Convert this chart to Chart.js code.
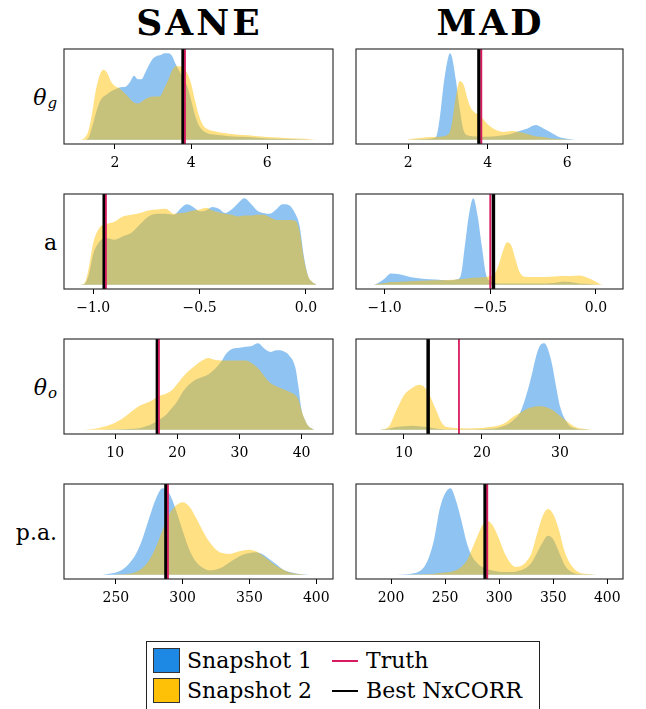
<!DOCTYPE html>
<html><head><meta charset="utf-8">
<script src="https://cdn.jsdelivr.net/npm/chart.js@4.4.0/dist/chart.umd.min.js"></script>
<style>
html,body{margin:0;padding:0;background:#fff;}
body{position:relative;width:646px;height:709px;overflow:hidden;font-family:'DejaVu Serif',serif;color:#000;}
canvas{position:absolute;}
.title{position:absolute;top:2px;width:300px;text-align:center;font-weight:bold;font-size:36px;line-height:40px;letter-spacing:3px;padding-left:3px;box-sizing:border-box;}
.rowlab{position:absolute;left:0;width:57px;height:40px;display:flex;align-items:center;justify-content:flex-end;font-size:22px;white-space:nowrap;}
.rowlab i{font-style:italic;}
.rowlab sub{font-size:15px;font-style:italic;position:relative;top:6px;vertical-align:baseline;line-height:0;margin-left:1px;}
#legend{position:absolute;left:146px;top:641px;width:394px;height:80px;border:1px solid #222;box-sizing:border-box;background:#fff;}
.patch{position:absolute;width:27px;height:25px;border:1px solid #333;box-sizing:border-box;}
.ltext{position:absolute;font-size:22px;line-height:30px;white-space:nowrap;}
.lline{position:absolute;width:26px;height:2px;}
</style>
</head><body>
<div class="title" style="left:48px;">SANE</div>
<div class="title" style="left:339px;">MAD</div>
<div class="rowlab" style="top:77px;"><i>θ</i><sub>g</sub></div>
<div class="rowlab" style="top:222px;">a</div>
<div class="rowlab" style="top:367px;"><i>θ</i><sub>o</sub></div>
<div class="rowlab" style="top:512px;">p.a.</div>
<div id="legend">
  <div class="patch" style="left:6px;top:6px;background:#1E88E5;"></div>
  <div class="patch" style="left:6px;top:36px;background:#FFC107;"></div>
  <div class="ltext" style="left:40px;top:4px;">Snapshot 1</div>
  <div class="ltext" style="left:40px;top:34px;">Snapshot 2</div>
  <div class="lline" style="left:185px;top:18px;background:#D81B60;"></div>
  <div class="lline" style="left:185px;top:48px;background:#000;"></div>
  <div class="ltext" style="left:219px;top:4px;">Truth</div>
  <div class="ltext" style="left:219px;top:34px;">Best NxCORR</div>
</div>
<script>
// ---------------- data ----------------
// theta_g, SANE
const thetaG_SANE_x = [1.1,1.2,1.3,1.4,1.5,1.6,1.7,1.8,1.9,2.0,2.1,2.2,2.3,2.4,2.5,2.6,2.7,2.8,2.9,3.0,3.1,3.2,3.3,3.4,3.5,3.6,3.7,3.8,3.9,4.0,4.1,4.2,4.3,4.4,4.6,4.8,5.0,5.5,6.0,6.5,7.0,7.3];
const thetaG_SANE_snap1 = [0,0,2,15,31,44,50,53,56,58,60,61,62,67,74,70,70,78,87,94,97,98,100,100,97,87,79,69,62,46,29,17,11,8,6,5,4,3,1.5,0.8,0.3,0];
const thetaG_SANE_snap2 = [0,2,10,31,58,75,81,77,67,62,60,56,52,47,43,42,44,47,49,50,50,51,60,69,80,85,85,83,77,65,46,29,18,13,10,8,7,5,3,2,1,0];
// theta_g, MAD
const thetaG_MAD_x = [2.0,2.3,2.6,2.7,2.8,2.9,3.0,3.05,3.1,3.2,3.3,3.4,3.5,3.6,3.8,4.0,4.2,4.4,4.6,4.8,5.0,5.2,5.4,5.6,5.8,6.0,6.2];
const thetaG_MAD_snap1 = [0,0.5,1.5,3,27,67,94,100,96,69,35,10,5,4,3.5,3.5,4,5,7,10,13,17,13,8,3,1,0];
const thetaG_MAD_snap2 = [0.5,2,3,3,3.5,4,6,9,19,50,68,63,46,35,28,18,11.5,9,10,9,6.5,4,3,1.5,0.8,0.3,0];
// spin a, SANE
const spin_SANE_x = [-1.06,-1.04,-1.02,-1.0,-0.97,-0.94,-0.9,-0.86,-0.82,-0.78,-0.74,-0.7,-0.66,-0.62,-0.59,-0.56,-0.53,-0.5,-0.47,-0.44,-0.41,-0.38,-0.35,-0.32,-0.29,-0.26,-0.23,-0.2,-0.17,-0.14,-0.11,-0.08,-0.05,-0.03,-0.01,0.01,0.03,0.05];
const spin_SANE_snap1 = [0,1,12,35,50,54,52,56,60,70,79,82,82,81,88,93,90,85,86,90,88,83,87,94,100,94,86,83,82,87,93,92,82,68,33,10,3,0];
const spin_SANE_snap2 = [0,2,20,48,66,70,73,79,81,83,86,87,88,82,83,84,86,87,89,86,84,82,81,79,80,80,81,81,78,75,75,75,74,62,30,10,3,0];
// spin a, MAD
const spin_MAD_x = [-1.05,-1.03,-1.0,-0.97,-0.93,-0.88,-0.82,-0.76,-0.70,-0.66,-0.64,-0.62,-0.60,-0.58,-0.56,-0.54,-0.52,-0.50,-0.48,-0.46,-0.44,-0.42,-0.40,-0.38,-0.36,-0.33,-0.29,-0.24,-0.20,-0.16,-0.12,-0.08,-0.05,-0.02,0.01,0.03];
const spin_MAD_snap1 = [0,2,7,13,12,9,7,6,5,6,10,45,82,100,80,45,12,4,2,1.5,1.5,1.5,1.5,1.5,1.5,1.5,1.5,1.5,2,3.5,3,1.5,1,0.5,0,0];
const spin_MAD_snap2 = [0,1,2,3,3.5,4,4.5,5,5.5,6,6.5,7,7.5,8,8,8.5,9,10,12,23,39,49,45,29,14,9,9,9,9.5,10,10,10.5,9,6,2,0];
// theta_o, SANE
const thetaO_SANE_x = [5,7,9,11,13,14,15,16,17,18,19,20,21,22,23,24,25,26,27,28,29,30,31,32,33,34,35,36,37,38,39,39.5,40,40.5,41,42];
const thetaO_SANE_snap1 = [0,0,0.3,0.6,1,2,4,7,11,16,24,33,45,53,58,61,64,70,78,89,94,95,96,97,100,94,90,92,91,86,72,50,23,12,5,0];
const thetaO_SANE_snap2 = [0,1.5,5,12,23,28,31,34,39,41,45,53,62,69,75,80,83,81,80,80,80,80,80,77,71,62,54,50,47,44,40,35,22,12,5,0];
// theta_o, MAD
const thetaO_MAD_x = [7,8,9,10,11,12,13,14,15,16,18,20,21,22,23,24,25,26,26.5,27,27.5,28,28.5,29,29.5,30,31,32,33,34];
const thetaO_MAD_snap1 = [0,1,3,4,4.5,4,3,1.5,0.5,0.3,0.3,0.5,1,2,5,11,22,50,68,87,98,100,92,75,50,27,7,1.5,0.5,0];
const thetaO_MAD_snap2 = [0,3,22,40,48,52,45,25,6,2.5,1.5,2,3,4.5,8,15,20,25,26,27,27,26.5,25,23,20,16,9,3,1,0];
// position angle, SANE
const pa_SANE_x = [240,245,250,255,260,265,270,275,280,285,290,295,300,305,310,315,320,325,330,335,340,345,350,355,360,365,370,375,380,385,390,395];
const pa_SANE_snap1 = [0,1,2.5,6,13,24,42,66,88,100,94,75,51,29,15,8,5,6,9,14,19,23,25,26,23.5,18,12,6,3,1.5,0.5,0];
const pa_SANE_snap2 = [0,0,0.3,0.5,1,3,8,17,32,52,70,80,84,79,66,51,38,29,25,24,26,28,29,27,22,16,10,6,2.5,1,0.3,0];
// position angle, MAD
const pa_MAD_x = [205,215,225,230,235,240,245,250,255,260,265,270,275,280,285,290,295,300,305,310,315,320,325,330,335,340,345,350,355,360,365,370,375,380,390];
const pa_MAD_snap1 = [0,0.5,3,8,20,42,76,94,100,86,63,37,21,13,8.5,6,4.5,3.5,3,3,3.5,5,8,14,25.5,37,45,41,27,12.5,4.7,1.5,0.5,0.2,0];
const pa_MAD_snap2 = [0,0,0.2,0.4,0.8,1.2,2,2.5,3,5,9,16,30,45,58,62,55,41,25,14,9,10,15,25,47,67,76,70,53,29,14,6,2,1,0];

// vertical markers, panel order: thetaG SANE, thetaG MAD, a SANE, a MAD, thetaO SANE, thetaO MAD, pa SANE, pa MAD
const truthValues = [3.84, 3.84, -0.94, -0.50, 17.05, 17.05, 289, 289];
const bestNxcorrValues = [3.79, 3.78, -0.948, -0.485, 16.8, 13.1, 287.5, 287];
// axis ranges and tick values
const xMinValues = [0.66, 0.69, -1.137, -1.135, 1.77, 3.85, 211.2, 167.6];
const xMaxValues = [7.73, 7.40, 0.127, 0.128, 45.06, 38.08, 412.5, 414.5];
const thetaG_ticks = [2, 4, 6];
const spin_ticks = [-1.0, -0.5, 0.0];
const thetaO_SANE_ticks = [10, 20, 30, 40];
const thetaO_MAD_ticks = [10, 20, 30];
const pa_SANE_ticks = [250, 300, 350, 400];
const pa_MAD_ticks = [200, 250, 300, 350, 400];
const panelTicks = [thetaG_ticks, thetaG_ticks, spin_ticks, spin_ticks, thetaO_SANE_ticks, thetaO_MAD_ticks, pa_SANE_ticks, pa_MAD_ticks];
const xTickDecimals = [0, 0, 1, 1, 0, 0, 0, 0];

const panelX = [thetaG_SANE_x, thetaG_MAD_x, spin_SANE_x, spin_MAD_x, thetaO_SANE_x, thetaO_MAD_x, pa_SANE_x, pa_MAD_x];
const panelSnap1 = [thetaG_SANE_snap1, thetaG_MAD_snap1, spin_SANE_snap1, spin_MAD_snap1, thetaO_SANE_snap1, thetaO_MAD_snap1, pa_SANE_snap1, pa_MAD_snap1];
const panelSnap2 = [thetaG_SANE_snap2, thetaG_MAD_snap2, spin_SANE_snap2, spin_MAD_snap2, thetaO_SANE_snap2, thetaO_MAD_snap2, pa_SANE_snap2, pa_MAD_snap2];

// ---------------- layout ----------------
const colLeft = [64, 356];
const colWidth = [269, 267];
const rowTop = [49, 194, 339, 484];
const panelHeight = 95;
const PAD = 30, PADTOP = 5, AXISH = 30;

Chart.defaults.font.family = "'DejaVu Serif', serif";
Chart.defaults.color = '#000';

const framePlugin = {
  id: 'frame',
  afterDraw(chart) {
    const a = chart.chartArea, ctx = chart.ctx;
    ctx.save();
    ctx.strokeStyle = '#222';
    ctx.lineWidth = 1.1;
    ctx.strokeRect(a.left, a.top, a.right - a.left, a.bottom - a.top);
    ctx.restore();
  }
};

function toPts(xs, ys) { return xs.map((x, i) => ({x: x, y: ys[i]})); }

for (let p = 0; p < 8; p++) {
  const col = p % 2, row = Math.floor(p / 2);
  const cv = document.createElement('canvas');
  const w = colWidth[col] + 2 * PAD, h = panelHeight + PADTOP + AXISH;
  cv.width = w; cv.height = h;
  cv.style.left = (colLeft[col] - PAD) + 'px';
  cv.style.top = (rowTop[row] - PADTOP) + 'px';
  cv.style.width = w + 'px'; cv.style.height = h + 'px';
  document.body.appendChild(cv);
  const dec = xTickDecimals[p];
  const tickVals = panelTicks[p];
  new Chart(cv.getContext('2d'), {
    type: 'line',
    data: {
      datasets: [
        {label: 'Truth', data: [{x: truthValues[p], y: -5}, {x: truthValues[p], y: 105}],
         borderColor: '#D81B60', borderWidth: 1.8, pointRadius: 0, fill: false, order: 0},
        {label: 'Best NxCORR', data: [{x: bestNxcorrValues[p], y: -5}, {x: bestNxcorrValues[p], y: 105}],
         borderColor: '#000', borderWidth: 3.5, pointRadius: 0, fill: false, order: 1},
        {label: 'Snapshot 2', data: toPts(panelX[p], panelSnap2[p]),
         backgroundColor: 'rgba(255,193,7,0.5)', borderColor: 'rgba(255,193,7,0)', borderWidth: 0,
         pointRadius: 0, fill: 'origin', cubicInterpolationMode: 'monotone', order: 2},
        {label: 'Snapshot 1', data: toPts(panelX[p], panelSnap1[p]),
         backgroundColor: 'rgba(30,136,229,0.5)', borderColor: 'rgba(30,136,229,0)', borderWidth: 0,
         pointRadius: 0, fill: 'origin', cubicInterpolationMode: 'monotone', order: 3}
      ]
    },
    options: {
      responsive: false, animation: false, events: [],
      layout: {padding: {left: PAD, right: PAD, top: PADTOP, bottom: 0}},
      plugins: {legend: {display: false}, tooltip: {enabled: false}},
      scales: {
        x: {
          type: 'linear', min: xMinValues[p], max: xMaxValues[p],
          afterBuildTicks: (s) => { s.ticks = tickVals.map(v => ({value: v})); },
          afterFit: (s) => { s.height = AXISH; },
          border: {display: false},
          grid: {drawOnChartArea: false, drawTicks: true, tickLength: 5, color: '#000', tickColor: '#000', lineWidth: 1},
          ticks: {
            autoSkip: false, maxRotation: 0, minRotation: 0,
            padding: 6, color: '#000', font: {size: 14},
            callback: (v) => Number(v).toFixed(dec).replace('-', '\u2212')
          }
        },
        y: {type: 'linear', display: false, min: -5, max: 105}
      }
    },
    plugins: [framePlugin]
  });
}
</script>
</body></html>
